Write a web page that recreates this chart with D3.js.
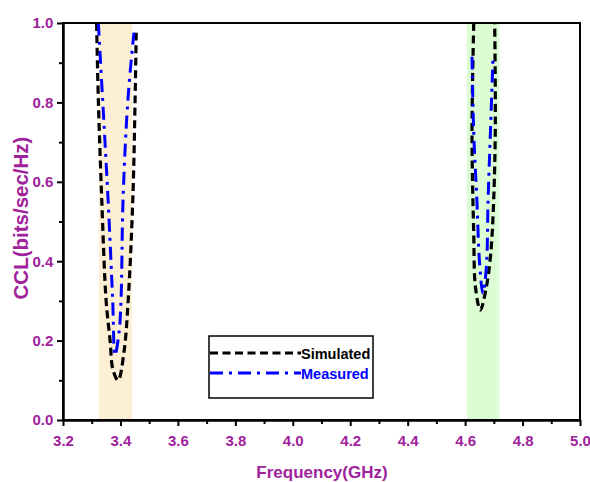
<!DOCTYPE html>
<html>
<head>
<meta charset="utf-8">
<script src="https://cdn.jsdelivr.net/npm/d3@7"></script>
<style>
  body { margin: 0; background: #fff; }
  text { font-family: "Liberation Sans", Arial, sans-serif; font-weight: bold; }
</style>
</head>
<body>
<div id="container"></div>
<script>
// data
const xTicks = [3.2, 3.4, 3.6, 3.8, 4.0, 4.2, 4.4, 4.6, 4.8, 5.0];
const yTicks = [0.0, 0.2, 0.4, 0.6, 0.8, 1.0];
const bands = [[3.325, 3.440], [4.606, 4.719]];
const bandColors = ["#fdefd4", "#dcfcd4"];

const simFreq = [3.317, 3.323, 3.335, 3.350, 3.364, 3.374, 3.392, 3.413, 3.427, 3.443, 3.451, 3.455,
                 4.630, 4.624, 4.630, 4.636, 4.653, 4.674, 4.688, 4.697, 4.705, 4.703];
const simCCL  = [1.00, 0.807, 0.554, 0.302, 0.200, 0.126, 0.100, 0.175, 0.302, 0.554, 0.807, 0.985,
                 1.00, 0.723, 0.470, 0.335, 0.277, 0.335, 0.410, 0.510, 0.723, 1.00];
const simSeg  = [0,0,0,0,0,0,0,0,0,0,0,0, 1,1,1,1,1,1,1,1,1,1];

const measFreq = [3.323, 3.338, 3.357, 3.373, 3.381, 3.395, 3.402, 3.409, 3.426, 3.447,
                  4.624, 4.630, 4.641, 4.650, 4.662, 4.674, 4.680, 4.688, 4.697];
const measCCL  = [1.00, 0.807, 0.554, 0.302, 0.163, 0.220, 0.302, 0.554, 0.807, 0.976,
                  0.915, 0.723, 0.554, 0.400, 0.319, 0.385, 0.554, 0.723, 0.908];
const measSeg  = [0,0,0,0,0,0,0,0,0,0, 1,1,1,1,1,1,1,1,1];

const purple = "#a0229c";
const simDash = "8,4.5";
const measDash = "13,6,3,6";

const margin = { top: 23, right: 10, bottom: 62, left: 63 };
const width = 580 - margin.left;
const height = 420 - margin.top;

const svg = d3.select("#container")
  .append("svg")
  .attr("width", 590)
  .attr("height", 482);

const g = svg.append("g")
  .attr("transform", `translate(${margin.left}, ${margin.top})`);

const x = d3.scaleLinear().domain([3.2, 5.0]).range([0, width]);
const y = d3.scaleLinear().domain([0, 1]).range([height, 0]);

g.append("clipPath").attr("id", "clip")
  .append("rect").attr("width", width).attr("height", height);

// shaded bands
g.selectAll(".band")
  .data(bands)
  .enter()
  .append("rect")
  .attr("class", "band")
  .attr("x", d => x(d[0]))
  .attr("width", d => x(d[1]) - x(d[0]))
  .attr("y", 0)
  .attr("height", height)
  .attr("fill", (d, i) => bandColors[i]);

// curves
const toSegments = (fs, vs, seg) => {
  const out = [];
  fs.forEach((f, i) => {
    if (!out[seg[i]]) out[seg[i]] = [];
    out[seg[i]].push([f, vs[i]]);
  });
  return out;
};

const line = d3.line()
  .x(d => x(d[0]))
  .y(d => y(d[1]))
  .curve(d3.curveCatmullRom.alpha(0.5));

const curves = g.append("g").attr("clip-path", "url(#clip)");

curves.selectAll(".sim")
  .data(toSegments(simFreq, simCCL, simSeg))
  .enter()
  .append("path")
  .attr("class", "sim")
  .attr("d", line)
  .attr("fill", "none")
  .attr("stroke", "#000")
  .attr("stroke-width", 3.2)
  .attr("stroke-dasharray", simDash);

curves.selectAll(".meas")
  .data(toSegments(measFreq, measCCL, measSeg))
  .enter()
  .append("path")
  .attr("class", "meas")
  .attr("d", line)
  .attr("fill", "none")
  .attr("stroke", "#0000ff")
  .attr("stroke-width", 3)
  .attr("stroke-dasharray", measDash);

// frame
g.append("rect")
  .attr("width", width)
  .attr("height", height)
  .attr("fill", "none")
  .attr("stroke", "#000")
  .attr("stroke-width", 2);

// axes
const xMinor = d3.range(3.3, 5.0, 0.2);
const yMinor = d3.range(0.1, 1.0, 0.2);

const xAxis = g.append("g")
  .attr("transform", `translate(0, ${height})`)
  .call(d3.axisBottom(x).tickValues(xTicks).tickFormat(d3.format(".1f")).tickSize(6).tickSizeOuter(0));
g.append("g")
  .attr("transform", `translate(0, ${height})`)
  .call(d3.axisBottom(x).tickValues(xMinor).tickFormat("").tickSize(4).tickSizeOuter(0))
  .call(a => a.select(".domain").remove());

const yAxis = g.append("g")
  .call(d3.axisLeft(y).tickValues(yTicks).tickFormat(d3.format(".1f")).tickSize(6).tickSizeOuter(0));
g.append("g")
  .call(d3.axisLeft(y).tickValues(yMinor).tickFormat("").tickSize(4).tickSizeOuter(0))
  .call(a => a.select(".domain").remove());

g.selectAll(".domain").attr("stroke-width", 2.5);
g.selectAll(".tick line").attr("stroke-width", 2);

xAxis.selectAll("text")
  .attr("fill", purple)
  .attr("font-size", 15)
  .attr("dy", "1.15em");
yAxis.selectAll("text")
  .attr("fill", purple)
  .attr("font-size", 15)
  .attr("dx", "-0.05em");

// axis titles
svg.append("text")
  .attr("x", 322)
  .attr("y", 478)
  .attr("text-anchor", "middle")
  .attr("fill", purple)
  .attr("font-size", 17)
  .text("Frequency(GHz)");

svg.append("text")
  .attr("transform", "translate(28, 218) rotate(-90)")
  .attr("text-anchor", "middle")
  .attr("fill", purple)
  .attr("font-size", 20.5)
  .text("CCL(bits/sec/Hz)");

// legend
const legend = svg.append("g").attr("transform", "translate(209, 336)");
legend.append("rect")
  .attr("width", 164)
  .attr("height", 62)
  .attr("fill", "#fff")
  .attr("stroke", "#000")
  .attr("stroke-width", 1.5);

const legendItems = [
  { name: "Simulated", color: "#000", dash: simDash },
  { name: "Measured", color: "#0000ff", dash: measDash }
];

legendItems.forEach((d, i) => {
  const ly = 17 + i * 20;
  legend.append("line")
    .attr("x1", 1).attr("x2", 92)
    .attr("y1", ly).attr("y2", ly)
    .attr("stroke", d.color)
    .attr("stroke-width", 3)
    .attr("stroke-dasharray", d.dash);
  legend.append("text")
    .attr("x", 92)
    .attr("y", ly + 5.5)
    .attr("fill", d.color)
    .attr("font-size", 14.5)
    .text(d.name);
});
</script>
</body>
</html>
